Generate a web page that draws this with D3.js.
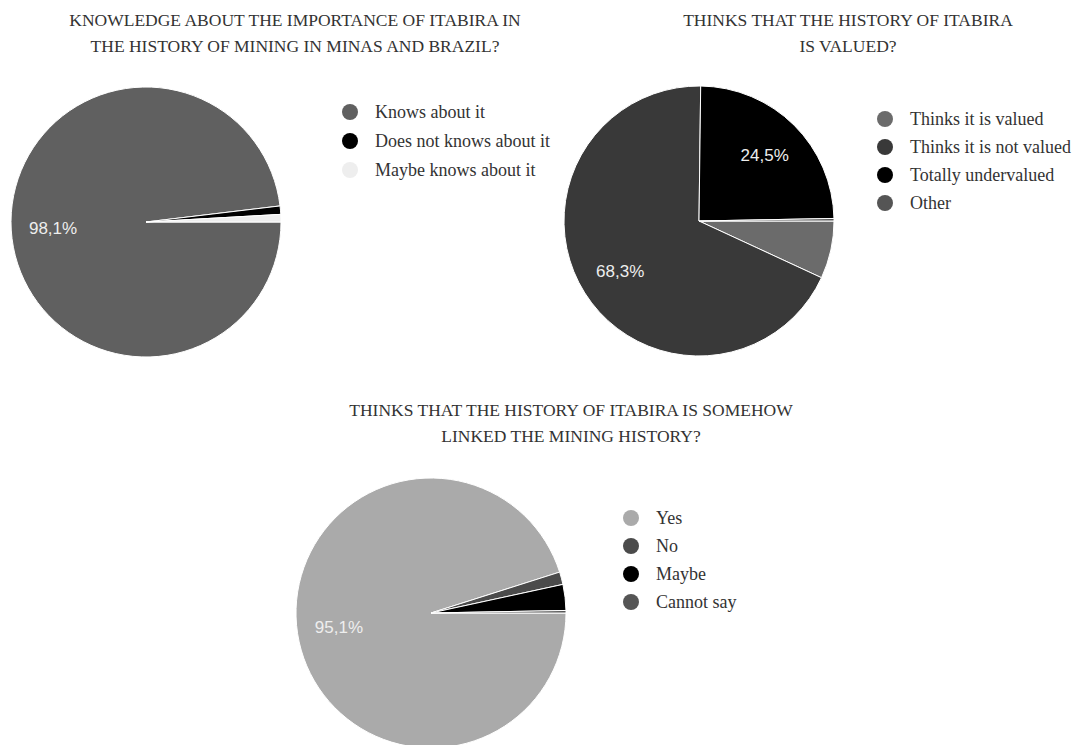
<!DOCTYPE html>
<html lang="en">
<head>
    <meta charset="UTF-8">
    <script src="https://d3js.org/d3.v7.min.js"></script>
    <style>
        body { margin: 0; background: #fff; }
        .title { font-family: "Liberation Serif", "Times New Roman", serif; font-size: 17.5px; fill: #333; text-anchor: middle; }
        .legend { font-family: "Liberation Serif", "Times New Roman", serif; font-size: 18px; fill: #333; }
        .pct { font-family: "Liberation Sans", Arial, sans-serif; font-size: 17px; fill: #eee; text-anchor: middle; }
    </style>
</head>
<body>
<svg id="chart"></svg>
<script>
// chart 1
const knowLabels = ["Knows about it", "Does not knows about it", "Maybe knows about it"];
const knowValues = [98.1, 1.0, 0.9];
const knowColors = ["#606060", "#000000", "#eeeeee"];

// chart 2
const valuedLabels = ["Thinks it is valued", "Thinks it is not valued", "Totally undervalued", "Other"];
const valuedValues = [6.9, 68.3, 24.5, 0.3];
const valuedColors = ["#6b6b6b", "#393939", "#000000", "#555555"];

// chart 3
const linkedLabels = ["Yes", "No", "Maybe", "Cannot say"];
const linkedValues = [95.1, 1.5, 3.1, 0.3];
const linkedColors = ["#aaaaaa", "#4b4b4b", "#000000", "#555555"];

const width = 1075, height = 745;
const svg = d3.select("#chart").attr("width", width).attr("height", height);

const fmt = v => d3.format(".1f")(v).replace(".", ",") + "%";

function drawPie(opts) {
    const g = svg.append("g");
    const r = 135;

    opts.title.forEach((t, i) => {
        g.append("text").attr("class", "title")
            .attr("x", opts.titleX).attr("y", opts.titleY + i * 26)
            .text(t);
    });

    const pie = d3.pie().sort(null)
        .startAngle(Math.PI / 2).endAngle(Math.PI / 2 + 2 * Math.PI);
    const arc = d3.arc().innerRadius(0).outerRadius(r);
    const labelArc = d3.arc().innerRadius(r * 0.69).outerRadius(r * 0.69);
    const arcs = pie(opts.values);

    const pg = g.append("g").attr("transform", `translate(${opts.cx},${opts.cy})`);
    pg.selectAll("path").data(arcs).enter().append("path")
        .attr("d", arc)
        .attr("fill", (d, i) => opts.colors[i])
        .attr("stroke", "#fff").attr("stroke-width", 1);

    pg.selectAll(".pct").data(arcs.filter(d => d.data >= 10)).enter().append("text")
        .attr("class", "pct")
        .attr("transform", d => `translate(${labelArc.centroid(d)})`)
        .attr("dy", "0.35em")
        .text(d => fmt(d.data));

    const lg = g.append("g").attr("transform", `translate(${opts.legendX},${opts.legendY})`);
    const items = lg.selectAll("g").data(opts.labels).enter().append("g")
        .attr("transform", (d, i) => `translate(0,${i * opts.legendStep})`);
    items.append("circle").attr("r", 8).attr("fill", (d, i) => opts.colors[i]);
    items.append("text").attr("class", "legend")
        .attr("x", 25).attr("dy", "0.33em").text(d => d);
}

drawPie({
    title: ["KNOWLEDGE ABOUT THE IMPORTANCE OF ITABIRA IN", "THE HISTORY OF MINING IN MINAS AND BRAZIL?"],
    titleX: 295, titleY: 26,
    cx: 146, cy: 222,
    values: knowValues, colors: knowColors, labels: knowLabels,
    legendX: 350, legendY: 112, legendStep: 29
});

drawPie({
    title: ["THINKS THAT THE HISTORY OF ITABIRA", "IS VALUED?"],
    titleX: 848, titleY: 26,
    cx: 699, cy: 221,
    values: valuedValues, colors: valuedColors, labels: valuedLabels,
    legendX: 885, legendY: 119, legendStep: 28
});

drawPie({
    title: ["THINKS THAT THE HISTORY OF ITABIRA IS SOMEHOW", "LINKED THE MINING HISTORY?"],
    titleX: 571, titleY: 416,
    cx: 431, cy: 613,
    values: linkedValues, colors: linkedColors, labels: linkedLabels,
    legendX: 631, legendY: 518, legendStep: 28
});
</script>
</body>
</html>
